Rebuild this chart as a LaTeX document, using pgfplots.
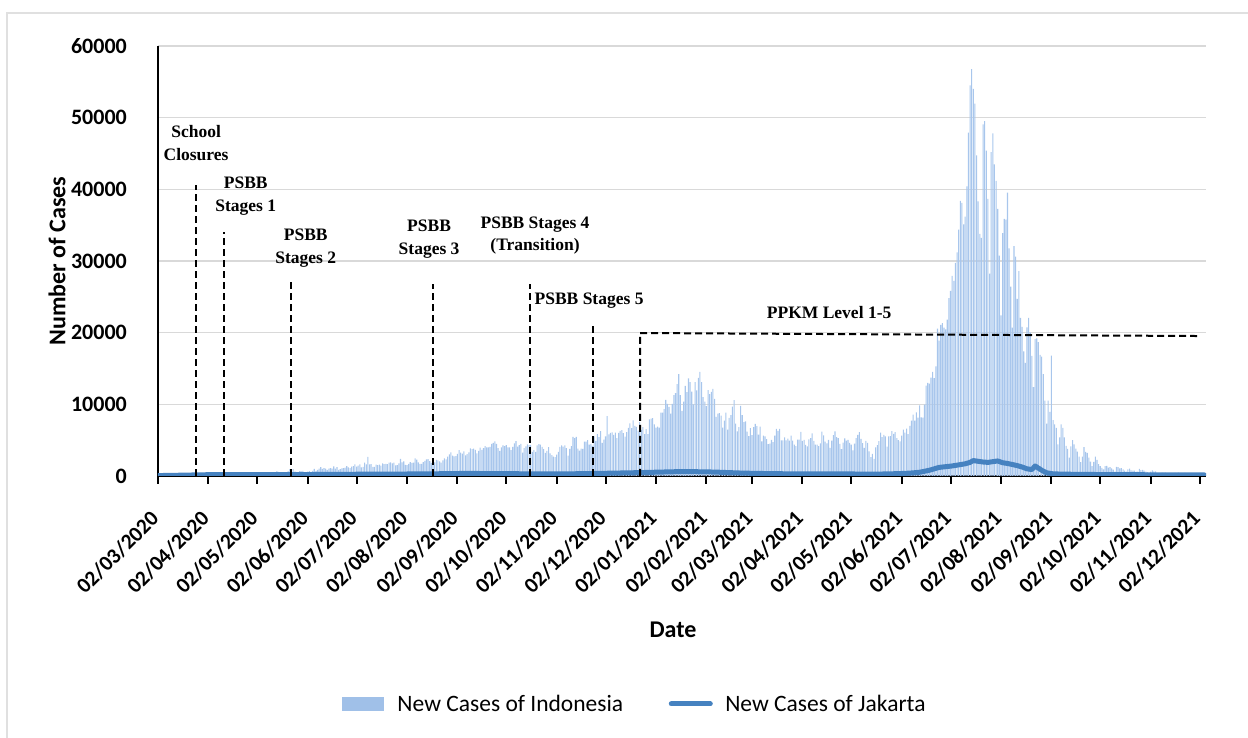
\documentclass[border=0pt]{standalone}
\usepackage{fontspec}
\setmainfont{Carlito}
\newfontfamily\timesfont{Liberation Serif}
\usepackage{pgfplots}
\usepackage{pgfplotstable}
\pgfplotsset{compat=1.18}

\definecolor{barblue}{RGB}{168,198,236}
\definecolor{legblue}{RGB}{160,192,232}
\definecolor{jakblue}{RGB}{70,130,192}
\definecolor{gridgray}{RGB}{217,217,217}
\definecolor{framegray}{RGB}{224,224,224}

% Daily new cases in Indonesia, one row per day from 2 March 2020 (one line per month)
\pgfplotstableread[row sep=\\, header=false]{
2\\0\\0\\0\\2\\0\\0\\13\\8\\7\\0\\35\\27\\21\\17\\38\\55\\82\\60\\81\\64\\65\\107\\104\\103\\153\\109\\130\\129\\114\\
149\\113\\196\\106\\181\\218\\247\\218\\337\\219\\330\\399\\316\\282\\297\\380\\407\\325\\327\\185\\375\\283\\357\\436\\396\\275\\233\\214\\415\\347\\
347\\433\\292\\349\\395\\484\\367\\338\\336\\533\\387\\233\\484\\689\\568\\490\\529\\489\\496\\486\\693\\973\\634\\949\\526\\479\\415\\686\\687\\700\\557\\
467\\609\\684\\585\\703\\993\\672\\847\\1043\\1241\\979\\1111\\1014\\857\\1017\\1106\\1031\\1331\\1041\\1226\\862\\954\\1051\\1113\\1178\\1385\\1198\\1082\\1293\\1385\\
1624\\1301\\1447\\1607\\1209\\1268\\1853\\1611\\2657\\1611\\1671\\1282\\1262\\1591\\1522\\1574\\1462\\1752\\1639\\1693\\1655\\1882\\1906\\1761\\1868\\1492\\1525\\1748\\2381\\1904\\2040\\
1560\\1519\\1679\\1922\\1815\\1882\\2473\\2277\\1893\\1687\\1693\\1942\\2098\\2307\\2345\\2081\\1821\\1673\\1902\\2266\\2197\\2037\\1877\\2180\\2447\\2306\\2719\\3003\\3308\\2858\\2743\\
2775\\3075\\3622\\3269\\3128\\3444\\2880\\3046\\3307\\3861\\3737\\3806\\3636\\3141\\3507\\3963\\3635\\3891\\4168\\3989\\3989\\4071\\4465\\4634\\4823\\4494\\3874\\3509\\4002\\4284\\
4174\\4317\\4007\\3992\\3622\\4056\\4538\\4850\\4094\\4294\\4497\\3267\\3906\\4127\\4411\\4301\\4301\\3373\\3602\\3373\\4267\\4432\\4369\\4070\\3732\\3222\\3520\\4029\\3143\\2897\\2696\\
2618\\2973\\3356\\4065\\4262\\4089\\4262\\3880\\2853\\3779\\4173\\5444\\5272\\5444\\3807\\3535\\3807\\3771\\4798\\4792\\4998\\4360\\4442\\4192\\5534\\4917\\5828\\5418\\6267\\4617\\
5092\\5533\\8369\\5803\\6027\\6089\\5754\\6058\\5292\\6033\\6310\\6388\\5990\\5489\\6120\\6725\\7354\\6689\\7751\\6982\\6848\\6347\\7514\\6451\\6808\\5854\\6528\\5854\\7903\\8002\\8074\\
7203\\6753\\6877\\6753\\8854\\8854\\9321\\10617\\10046\\9640\\8692\\10047\\11278\\11557\\12818\\14224\\11287\\9086\\10365\\12568\\11703\\13632\\13092\\11788\\9994\\13094\\11948\\13695\\14518\\13114\\10994\\
10361\\9755\\11984\\11434\\11749\\12156\\10768\\8242\\8700\\8776\\8435\\6765\\7734\\8844\\6462\\8114\\8493\\9687\\10600\\7300\\6231\\6802\\9775\\8493\\7534\\7635\\6208\\5560\\
6680\\5712\\6808\\7264\\6971\\5767\\6894\\4821\\5633\\5531\\5144\\4447\\4517\\5046\\4714\\5620\\6570\\6279\\6585\\4972\\4982\\5379\\4981\\5227\\4952\\5633\\4934\\4360\\4156\\5085\\5071\\
6142\\4913\\5041\\4337\\4129\\5101\\5271\\5931\\4889\\4384\\4362\\4160\\4549\\6177\\5656\\4802\\4560\\5041\\3935\\4952\\5720\\6243\\5436\\5295\\4467\\3738\\4656\\5241\\4952\\5040\\
4605\\4369\\3565\\4512\\5285\\5744\\6130\\5181\\4585\\3922\\4891\\4608\\3448\\2633\\3080\\2385\\3992\\4295\\4871\\6054\\5426\\5746\\5514\\4113\\5527\\5560\\6278\\5862\\6131\\5297\\5012\\
4824\\5642\\6486\\6063\\6594\\5832\\6993\\7725\\8580\\7719\\8892\\8161\\9868\\8189\\8161\\9944\\12624\\12990\\12906\\13737\\14536\\13668\\15308\\20574\\18872\\21095\\21342\\20694\\20467\\21807\\
24836\\25830\\27913\\27233\\29745\\31189\\34379\\38391\\38124\\35094\\36197\\40427\\47899\\54517\\56757\\54000\\51952\\44721\\38325\\33772\\33215\\49071\\49509\\45416\\38679\\28228\\45203\\47791\\43479\\41168\\37284\\
30738\\22404\\33900\\35867\\35764\\39532\\31753\\26415\\20709\\32081\\30625\\24709\\28598\\22053\\20813\\17384\\15768\\20741\\22053\\20004\\16744\\12408\\19106\\19200\\18671\\16899\\16670\\14224\\10534\\7308\\10534\\
8955\\16800\\7797\\7201\\6727\\4413\\5403\\7201\\6731\\5376\\4215\\3779\\2577\\4128\\5001\\4425\\3835\\3385\\2720\\1932\\2720\\4028\\3362\\3215\\2557\\1994\\1390\\1954\\2720\\2234\\
1653\\1394\\1142\\922\\1393\\1404\\1167\\1233\\1074\\894\\620\\1261\\1233\\1053\\1109\\914\\747\\623\\914\\1020\\777\\760\\747\\620\\606\\1003\\805\\864\\760\\612\\540\\
427\\612\\785\\632\\644\\395\\370\\365\\480\\435\\480\\400\\388\\308\\212\\383\\426\\416\\479\\301\\293\\214\\420\\400\\394\\412\\297\\176\\264\\356\\
224\\190\\224\\289\\178\\
}\indonesia

\begin{document}
\begin{tikzpicture}
\useasboundingbox (0,0) rectangle (1248pt,738pt);
\draw[framegray, line width=1.5pt] (7pt,0pt) -- (7pt,725pt) -- (1248pt,725pt);
\begin{axis}[
  at={(158pt,262pt)}, anchor=south west,
  width=1048pt, height=430pt, scale only axis,
  xmin=0, xmax=644, ymin=0, ymax=60000,
  axis lines*=left,
  x axis line style={line width=2.5pt, black},
  y axis line style={line width=2pt, black},
  ymajorgrids,
  grid style={gridgray, line width=1.5pt},
  ytick={0,10000,20000,30000,40000,50000,60000},
  scaled y ticks=false,
  /pgf/number format/fixed,
  /pgf/number format/1000 sep={},
  /pgf/number format/assume math mode=true,
  xtick={0,31,61,92,122,153,184,214,245,275,306,337,365,396,426,457,487,518,549,579,610,640},
  xticklabels={02/03/2020,02/04/2020,02/05/2020,02/06/2020,02/07/2020,02/08/2020,02/09/2020,02/10/2020,02/11/2020,02/12/2020,02/01/2021,02/02/2021,02/03/2021,02/04/2021,02/05/2021,02/06/2021,02/07/2021,02/08/2021,02/09/2021,02/10/2021,02/11/2021,02/12/2021},
  tick align=outside,
  major tick length=8pt,
  xtick style={black, line width=2pt},
  ytick style={draw=none},
  ticklabel style={inner sep=0pt},
  yticklabel style={font=\bfseries\fontsize{22}{26}\selectfont, xshift=-23pt},
  xticklabel style={font=\bfseries\fontsize{21.5}{25}\selectfont, xshift=-3pt, yshift=-31pt, rotate=45, anchor=east},
  xlabel={Date},
  ylabel={Number of Cases},
  every axis x label/.style={at={(axis description cs:0.4914,-0.3581)}, anchor=center,
    font=\bfseries\fontsize{24}{28}\selectfont},
  every axis y label/.style={at={(axis description cs:-0.0964,0.5)}, rotate=90, anchor=center,
    font=\bfseries\fontsize{24}{28}\selectfont},
  legend columns=2,
  legend style={at={(axis description cs:0.4542,-0.5302)}, anchor=center,
    draw=none, fill=none, font=\fontsize{23.5}{27}\selectfont,
    nodes={inner sep=0pt},
    /tikz/every even column/.append style={column sep=43pt}},
]

% Indonesia, daily bars
\addplot[ybar, bar width=0.65, fill=barblue, draw=none,
  legend image code/.code={\fill[legblue] (0pt,-7pt) rectangle (42pt,7pt); \path (55pt,0pt);}]
  table[x expr=\coordindex, y index=0] {\indonesia};
\addlegendentry{New Cases of Indonesia}

% Jakarta, line
\addplot[jakblue, line width=5pt, line join=round, line cap=round,
  legend image code/.code={\draw[jakblue, line width=5pt, line cap=round] (2.5pt,0pt) -- (41.5pt,0pt); \path (0pt,0pt) (54pt,0pt);}]
  coordinates {
  (0,60)(7,80)(14,110)(21,140)(28,170)(35,190)(42,200)(49,190)(56,180)(63,190)
  (70,200)(77,190)(84,210)(91,200)(98,210)(105,220)(112,230)(119,240)(126,250)(133,260)
  (140,260)(147,270)(154,280)(161,290)(168,300)(175,320)(182,340)(189,360)(196,350)(203,340)
  (210,330)(217,320)(224,310)(231,300)(238,290)(245,280)(252,300)(259,320)(266,340)(273,370)
  (280,400)(287,430)(294,460)(301,500)(308,540)(315,580)(322,620)(329,600)(336,580)(343,540)
  (350,480)(357,420)(364,380)(371,350)(378,330)(385,310)(392,300)(399,290)(406,300)(413,310)
  (420,290)(427,280)(434,270)(441,260)(448,290)(455,330)(462,400)(468,520)(474,800)(480,1200)
  (484,1300)(488,1400)(492,1550)(496,1700)(499,1900)(501,2150)(504,2050)(507,1950)(510,1900)(513,2000)
  (516,2100)(519,1850)(522,1750)(525,1600)(528,1450)(531,1250)(534,1000)(537,900)(539,1400)(541,1100)
  (543,800)(546,450)(550,300)(556,260)(565,230)(580,200)(600,180)(620,160)(643,150)
  };
\addlegendentry{New Cases of Jakarta}

% policy milestones
\addplot[forget plot, black, line width=2pt, dash pattern=on 7pt off 4pt] coordinates {(23.4,0)(23.4,40600)};
\addplot[forget plot, black, line width=2pt, dash pattern=on 7pt off 4pt] coordinates {(40.6,0)(40.6,34090)};
\addplot[forget plot, black, line width=2pt, dash pattern=on 7pt off 4pt] coordinates {(81.9,0)(81.9,27350)};
\addplot[forget plot, black, line width=2pt, dash pattern=on 7pt off 4pt] coordinates {(168.8,0)(168.8,26790)};
\addplot[forget plot, black, line width=2pt, dash pattern=on 7pt off 4pt] coordinates {(228.6,0)(228.6,26790)};
\addplot[forget plot, black, line width=2pt, dash pattern=on 7pt off 4pt] coordinates {(267.2,0)(267.2,21210)};
\addplot[forget plot, black, line width=2pt, dash pattern=on 7pt off 4pt] coordinates {(296.2,0)(296.2,19950)(640.5,19530)};

\begin{scope}[every node/.style={font=\timesfont\bfseries\fontsize{17.5}{22.5}\selectfont, align=center, inner sep=0pt}]
\node at (axis cs:23.4,46460) {School\\Closures};
\node at (axis cs:53.9,39030) {PSBB\\Stages 1};
\node at (axis cs:90.8,31810) {PSBB\\Stages 2};
\node at (axis cs:166.6,33030) {PSBB\\Stages 3};
\node at (axis cs:231.7,33560) {PSBB Stages 4\\(Transition)};
\node at (axis cs:264.9,24420) {PSBB Stages 5};
\node at (axis cs:412.4,22880) {PPKM Level 1-5};
\end{scope}
\end{axis}
\end{tikzpicture}
\end{document}
